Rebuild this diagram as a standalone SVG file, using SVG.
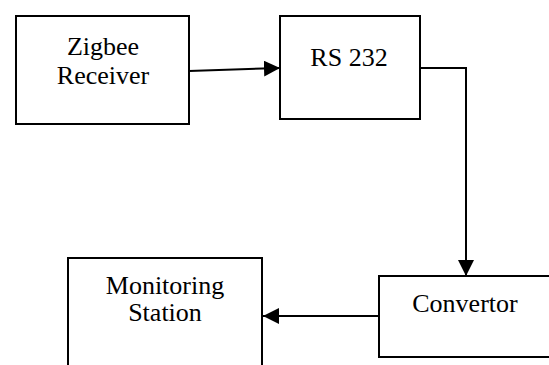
<svg xmlns="http://www.w3.org/2000/svg" width="549" height="365" viewBox="0 0 549 365">
<style>
.box{fill:#fff;stroke:#000;stroke-width:2}
.lbl{font-family:"Liberation Serif","Times New Roman",serif;font-size:26px;fill:#000;text-anchor:middle}
.conn{fill:none;stroke:#000;stroke-width:2}
</style>
<defs>
<marker id="arr" viewBox="0 0 16 16" refX="16" refY="8" markerWidth="16" markerHeight="16" markerUnits="userSpaceOnUse" orient="auto">
<path d="M0,0 L16,8 L0,16 Z" fill="#000"/>
</marker>
</defs>
<rect width="549" height="365" fill="#fff"/>
<g id="zigbee">
<rect class="box" x="16" y="16" width="173" height="108"/>
<text class="lbl" x="103" y="55">Zigbee</text>
<text class="lbl" x="103" y="84">Receiver</text>
</g>
<g id="rs232">
<rect class="box" x="280" y="16" width="140" height="103"/>
<text class="lbl" x="349" y="66">RS 232</text>
</g>
<g id="convertor">
<rect class="box" x="379" y="276" width="180" height="81"/>
<text class="lbl" x="465" y="312">Convertor</text>
</g>
<g id="monitoring">
<rect class="box" x="68" y="258" width="194" height="120"/>
<text class="lbl" x="165" y="294">Monitoring</text>
<text class="lbl" x="165" y="321">Station</text>
</g>
<g id="connectors">
<path class="conn" d="M189,71 L280,68" marker-end="url(#arr)"/>
<path class="conn" d="M420,68 L466,68 L466,276" marker-end="url(#arr)"/>
<path class="conn" d="M379,316 L263,316" marker-end="url(#arr)"/>
</g>
</svg>
